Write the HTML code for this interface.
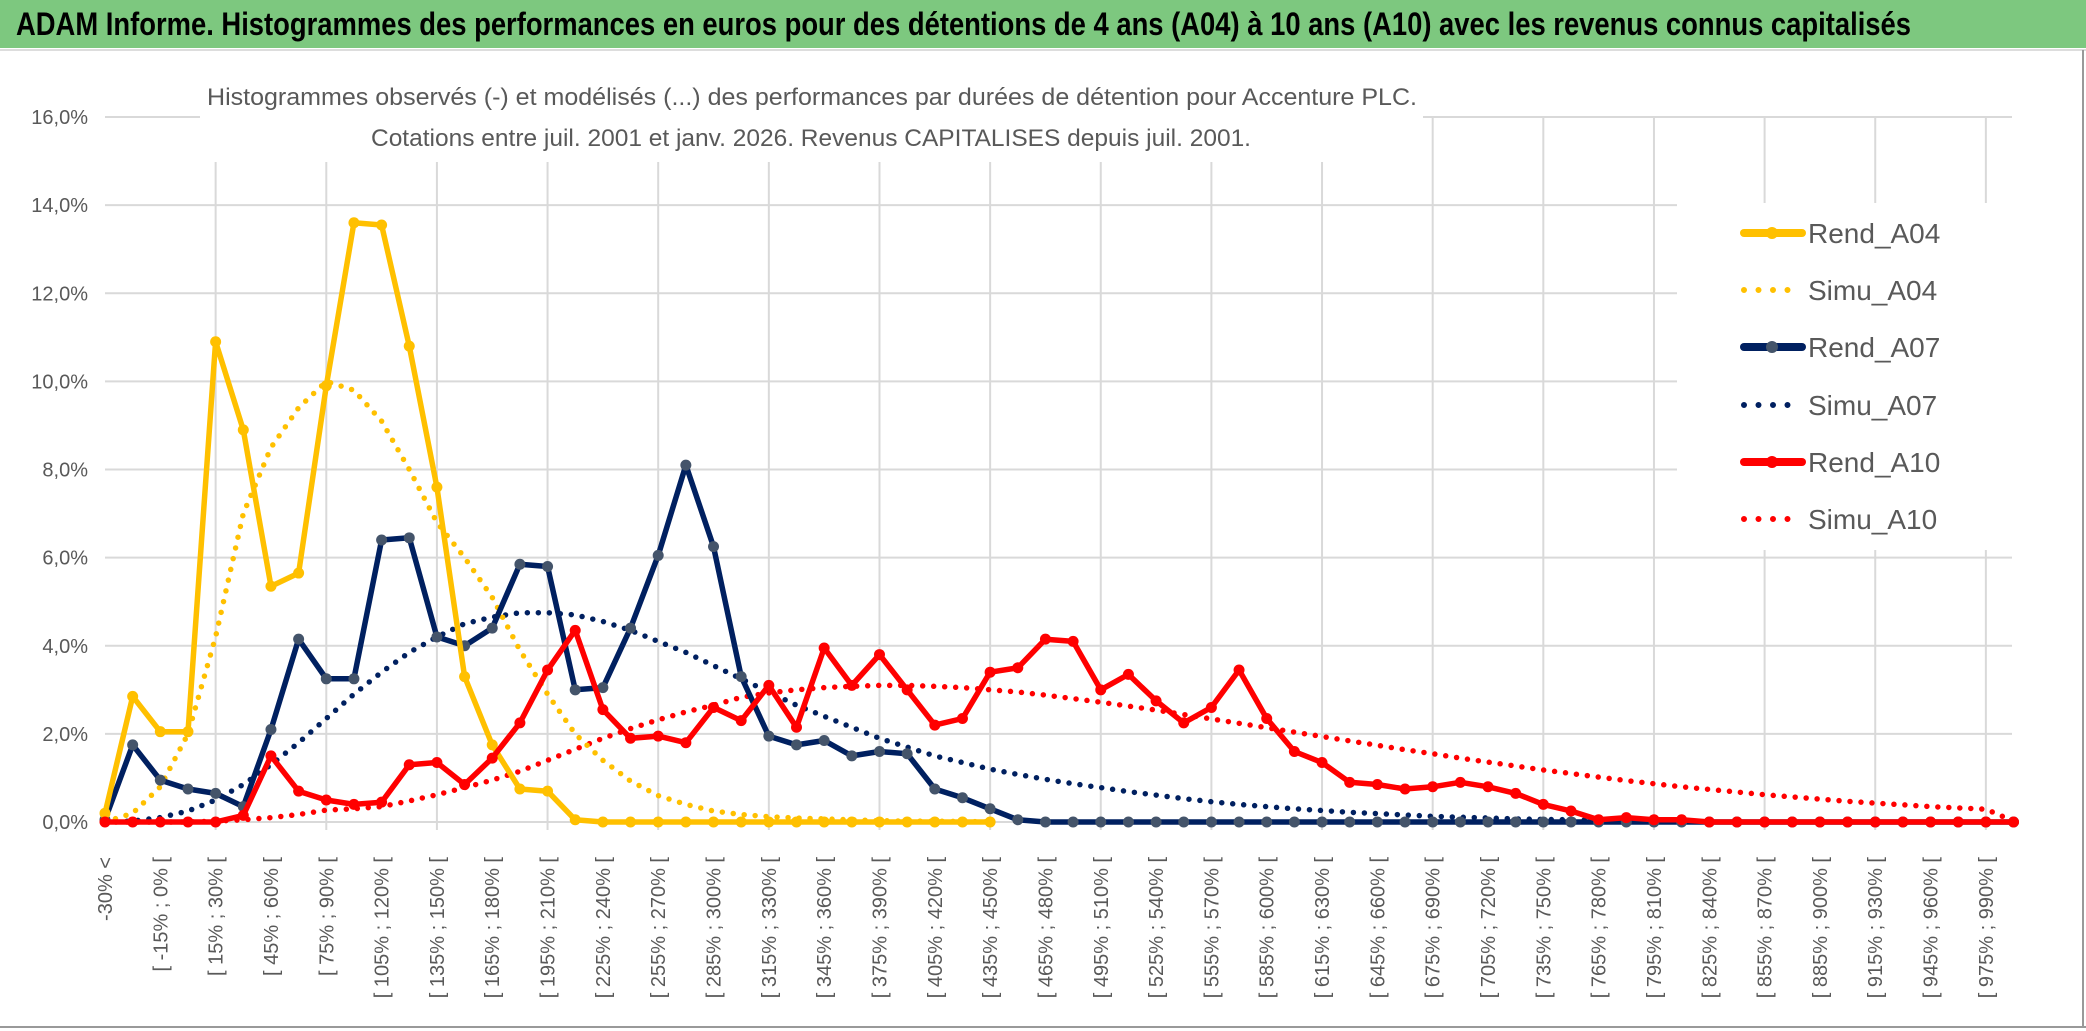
<!DOCTYPE html>
<html><head><meta charset="utf-8"><style>
html,body{margin:0;padding:0;background:#fff;}
svg{display:block;}
</style></head><body>
<svg id="chart" width="2086" height="1031" xmlns="http://www.w3.org/2000/svg" font-family="'Liberation Sans Narrow','Liberation Sans',sans-serif">
<rect x="0" y="0" width="2086" height="1031" fill="#fff"/>
<rect x="0" y="0" width="2086" height="48" fill="#7DC87F"/>
<text x="16" y="35" font-size="32" font-weight="bold" fill="#000" textLength="1895" lengthAdjust="spacingAndGlyphs">ADAM Informe. Histogrammes des performances en euros pour des détentions de 4 ans (A04) à 10 ans (A10) avec les revenus connus capitalisés</text>
<line x1="0" y1="50" x2="2086" y2="50" stroke="#ddd" stroke-width="2"/>
<line x1="2083" y1="50" x2="2083" y2="1026" stroke="#999" stroke-width="2"/>
<line x1="0" y1="1027" x2="2086" y2="1027" stroke="#999" stroke-width="2"/>
<g id="grid"></g>
<rect x="200" y="82" width="1223" height="80" fill="#fff"/>
<text x="812" y="105" font-size="24" fill="#595959" text-anchor="middle" textLength="1210" lengthAdjust="spacingAndGlyphs">Histogrammes observés (-) et modélisés (...) des performances par durées de détention pour Accenture PLC.</text>
<text x="811" y="146" font-size="24" fill="#595959" text-anchor="middle" textLength="880" lengthAdjust="spacingAndGlyphs">Cotations entre juil. 2001 et janv. 2026. Revenus CAPITALISES depuis juil. 2001.</text>
<g id="axes"></g>
<g id="series"></g>
<g id="legend"></g>
</svg>
<script>
const categories = [];
for (let i = 0; i < 70; i++) { categories.push(i === 0 ? "-30% <" : "[ " + (-30 + 15 * (i - 1)) + "% ; " + (-15 + 15 * (i - 1)) + "% ["); }
const yTicks = [0, 2, 4, 6, 8, 10, 12, 14, 16];
const rendA04 = [0.2,2.85,2.05,2.05,10.9,8.9,5.35,5.65,9.9,13.6,13.55,10.8,7.6,3.3,1.75,0.75,0.7,0.05,0,0,0,0,0,0,0,0,0,0,0,0,0,0,0];
const simuA04 = [0,0.2,0.8,2.0,4.2,7.0,8.5,9.4,10.0,9.8,9.1,8.0,6.8,6.0,5.1,3.9,2.9,2.0,1.4,0.93,0.6,0.4,0.25,0.17,0.12,0.09,0.07,0.05,0.03,0.02,0.02,0.01,0.01];
const rendA07 = [0.05,1.75,0.95,0.75,0.65,0.35,2.1,4.15,3.25,3.25,6.4,6.45,4.2,4.0,4.4,5.85,5.8,3.0,3.05,4.4,6.05,8.1,6.25,3.3,1.95,1.75,1.85,1.5,1.6,1.55,0.75,0.55,0.3,0.05,0,0,0,0,0,0,0,0,0,0,0,0,0,0,0,0,0,0,0,0,0,0,0,0,0,0,0,0,0,0,0,0,0,0,0,0];
const simuA07 = [0,0.02,0.1,0.25,0.5,0.85,1.3,1.8,2.35,2.9,3.4,3.85,4.2,4.5,4.65,4.75,4.75,4.7,4.55,4.35,4.1,3.85,3.55,3.25,2.95,2.65,2.4,2.15,1.9,1.7,1.5,1.35,1.2,1.08,0.97,0.87,0.78,0.69,0.61,0.53,0.46,0.4,0.35,0.3,0.26,0.22,0.19,0.16,0.13,0.11,0.09,0.07,0.06,0.05,0.04,0.03];
const rendA10 = [0,0,0,0,0,0.15,1.5,0.7,0.5,0.4,0.45,1.3,1.35,0.85,1.45,2.25,3.45,4.35,2.55,1.9,1.95,1.8,2.6,2.3,3.1,2.15,3.95,3.1,3.8,3.0,2.2,2.35,3.4,3.5,4.15,4.1,3.0,3.35,2.75,2.25,2.6,3.45,2.35,1.6,1.35,0.9,0.85,0.75,0.8,0.9,0.8,0.65,0.4,0.25,0.05,0.1,0.05,0.05,0,0,0,0,0,0,0,0,0,0,0,0];
const simuA10 = [0,0,0,0,0.02,0.05,0.1,0.17,0.27,0.3,0.35,0.48,0.62,0.78,0.95,1.15,1.4,1.65,1.9,2.12,2.32,2.5,2.65,2.83,2.93,3.0,3.05,3.08,3.1,3.1,3.08,3.05,3.0,2.95,2.88,2.8,2.72,2.63,2.54,2.44,2.34,2.24,2.14,2.04,1.94,1.84,1.74,1.64,1.55,1.45,1.36,1.27,1.18,1.1,1.02,0.94,0.87,0.8,0.74,0.68,0.62,0.57,0.52,0.47,0.43,0.39,0.35,0.32,0.29,0.02];

const NS = "http://www.w3.org/2000/svg";
const X0 = 105, DX = 27.66, Y0 = 822, PPU = 44.06, XR = 2012;
const xs = i => X0 + i * DX;
const ys = v => Y0 - v * PPU;
function mk(tag, attrs, parent) { const e = document.createElementNS(NS, tag); for (const k in attrs) e.setAttribute(k, attrs[k]); parent.appendChild(e); return e; }
const grid = document.getElementById("grid"), axes = document.getElementById("axes"), series = document.getElementById("series"), legend = document.getElementById("legend");

yTicks.forEach(t => {
  const l = mk("line", {x1: X0, x2: XR, y1: ys(t), y2: ys(t), stroke: "#d9d9d9", "stroke-width": 2}, grid);
  
  
  const tx = mk("text", {x: 88, y: ys(t) + 7, "font-size": 20, fill: "#595959", "text-anchor": "end"}, axes);
  tx.textContent = t.toFixed(1).replace(".", ",") + "%";
  
  
});
for (let i = 4; i < categories.length; i += 4) {
  const l = mk("line", {x1: xs(i), x2: xs(i), y1: ys(16), y2: Y0 + 8, stroke: "#d9d9d9", "stroke-width": 2}, grid);
  
  
}
categories.forEach((c, i) => {
  if (i % 2 !== 0) return;
  const x = xs(i) + 7, y = 857;
  const tx = mk("text", {x: x, y: y, "font-size": 20, fill: "#595959", "text-anchor": "end", "font-family": "'Liberation Sans',sans-serif", transform: "rotate(-90 " + x + " " + y + ")"}, axes);
  tx.textContent = c;
  
  
});

function pathOf(arr) { return arr.map((v, i) => (i ? "L" : "M") + xs(i).toFixed(1) + " " + ys(v).toFixed(1)).join(" "); }
function dotted(arr, color, name) {
  const p = mk("path", {d: pathOf(arr), fill: "none", stroke: color, "stroke-width": 5.5, "stroke-linecap": "round", "stroke-dasharray": "0 11"}, series);
  
  
}
function solid(arr, color, mcolor, name) {
  const p = mk("path", {d: pathOf(arr), fill: "none", stroke: color, "stroke-width": 5.5, "stroke-linejoin": "round"}, series);
  
  
  arr.forEach((v, i) => {
    const c = mk("circle", {cx: xs(i), cy: ys(v), r: 5.5, fill: mcolor}, series);
    
    
  });
}
dotted(simuA10, "#FF0000", "simu-a10-line");
dotted(simuA07, "#002060", "simu-a07-line");
dotted(simuA04, "#FFC000", "simu-a04-line");
solid(rendA07, "#002060", "#44546A", "rend-a07-line");
solid(rendA04, "#FFC000", "#FFC000", "rend-a04-line");
solid(rendA10, "#FF0000", "#FF0000", "rend-a10-line");

const lb = mk("rect", {x: 1677, y: 203, width: 335, height: 347, fill: "#fff"}, legend);


const legItems = [["Rend_A04", "#FFC000", "#FFC000", false], ["Simu_A04", "#FFC000", "", true], ["Rend_A07", "#002060", "#44546A", false], ["Simu_A07", "#002060", "", true], ["Rend_A10", "#FF0000", "#FF0000", false], ["Simu_A10", "#FF0000", "", true]];
const legY = [233, 290, 347, 405, 462, 519];
legItems.forEach((it, k) => {
  const y = legY[k];
  const g = mk("g", {}, legend);
  
  
  if (it[3]) {
    mk("line", {x1: 1744, x2: 1800, y1: y, y2: y, stroke: it[1], "stroke-width": 6, "stroke-linecap": "round", "stroke-dasharray": "0 14.5"}, g);
  } else {
    mk("line", {x1: 1744, x2: 1802, y1: y, y2: y, stroke: it[1], "stroke-width": 8, "stroke-linecap": "round"}, g);
    mk("circle", {cx: 1772, cy: y, r: 6, fill: it[2]}, g);
  }
  const t = mk("text", {x: 1808, y: y + 10, "font-size": 28, fill: "#595959"}, g);
  t.textContent = it[0];
});
</script>
</body></html>
